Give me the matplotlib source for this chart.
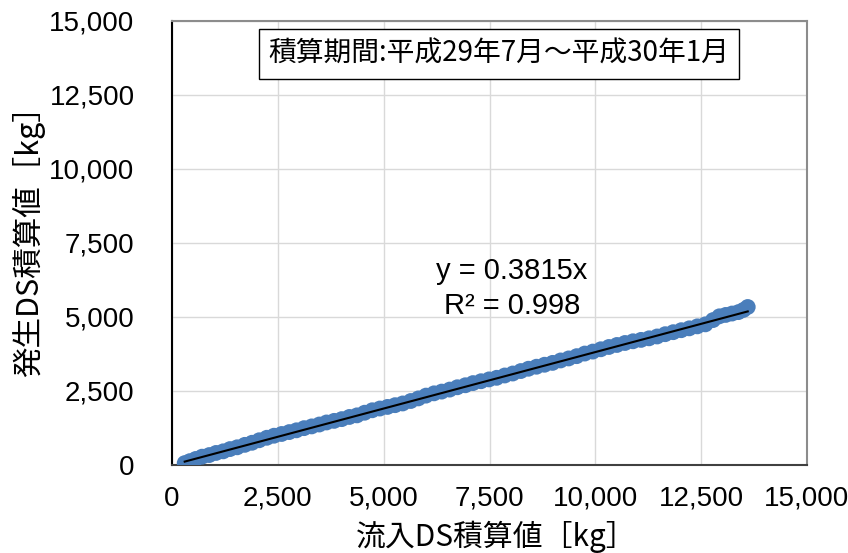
import matplotlib
matplotlib.use("Agg")
import matplotlib.pyplot as plt
import numpy as np
from matplotlib.ticker import FuncFormatter, MultipleLocator

plt.rcParams["font.family"] = ["Liberation Sans", "Noto Sans CJK JP"]

# cumulative DS inflow [kg] vs cumulative DS generated [kg]
inflow_kg = [
    300, 420, 560, 710, 880, 1040, 1210, 1370, 1540, 1720, 1890, 2060, 2240,
    2410, 2590, 2770, 2940, 3120, 3300, 3480, 3650, 3830, 4010, 4190, 4370,
    4550, 4730, 4910, 5090, 5270, 5450, 5640, 5820, 6000, 6190, 6370, 6560,
    6740, 6930, 7110, 7300, 7490, 7670, 7860, 8050, 8240, 8420, 8610, 8800,
    8990, 9180, 9370, 9560, 9750, 9940, 10130, 10320, 10510, 10700, 10890,
    11080, 11270, 11460, 11650, 11840, 12030, 12220, 12410, 12600, 12780,
    12930, 13080, 13230, 13380, 13500, 13600,
]
generated_kg = [
    64, 130, 204, 281, 336, 407, 462, 538, 598, 681, 751, 836, 920,
    989, 1048, 1112, 1172, 1245, 1304, 1368, 1437, 1491, 1550, 1623, 1677,
    1766, 1849, 1908, 1962, 2021, 2079, 2162, 2250, 2344, 2421, 2480, 2548,
    2626, 2694, 2767, 2830, 2892, 2946, 3024, 3091, 3174, 3252, 3320, 3387,
    3450, 3532, 3600, 3677, 3765, 3832, 3910, 3987, 4055, 4122, 4180,
    4227, 4280, 4342, 4419, 4487, 4554, 4617, 4684, 4752, 4896,
    5023, 5070, 5117, 5165, 5240, 5338,
]
slope = 0.3815
r2 = 0.998
period_label = "積算期間:平成29年7月～平成30年1月"
x_label = "流入DS積算値［kg］"
y_label = "発生DS積算値［kg］"

jp = ["Noto Sans CJK JP", "Liberation Sans"]

fig = plt.figure(figsize=(8.48, 5.53), dpi=100)
ax = fig.add_axes([172 / 848, 1 - 465 / 553, 635 / 848, 444 / 553])

ax.scatter(inflow_kg, generated_kg, s=130, color="#4A7EBB", edgecolors="none", zorder=3)

fit_x = np.array([min(inflow_kg), max(inflow_kg)])
ax.plot(fit_x, slope * fit_x, color="black", lw=1.5, zorder=4)

ax.set_xlim(0, 15000)
ax.set_ylim(0, 15000)
ax.xaxis.set_major_locator(MultipleLocator(2500))
ax.yaxis.set_major_locator(MultipleLocator(2500))
fmt = FuncFormatter(lambda v, p: f"{int(v):,}")
ax.xaxis.set_major_formatter(fmt)
ax.yaxis.set_major_formatter(fmt)
ax.tick_params(axis="both", length=0, labelsize=20)
ax.tick_params(axis="y", pad=27)
ax.tick_params(axis="x", pad=15)

ax.grid(True, color="#D9D9D9", lw=1)
ax.set_axisbelow(True)
ax.spines["left"].set_color("black")
ax.spines["bottom"].set_color("#404040")
ax.spines["top"].set_color("#8C8C8C")
ax.spines["right"].set_color("#8C8C8C")
for sp in ax.spines.values():
    sp.set_linewidth(1.5)

ax.set_xlabel(x_label, family=jp, fontsize=21.5)
ax.set_ylabel(y_label, family=jp, fontsize=22)
ax.xaxis.set_label_coords(0.51, -0.125)
ax.yaxis.set_label_coords(-0.2, 0.52)

ax.text(0.515, 0.926, period_label, transform=ax.transAxes, family=jp,
        fontsize=20, ha="center", va="center",
        bbox=dict(boxstyle="square,pad=0.35", fc="white", ec="black", lw=1))

ax.text(0.535, 0.437, f"y = {slope}x", transform=ax.transAxes,
        fontsize=21, ha="center", va="center")
ax.text(0.535, 0.357, f"R² = {r2}", transform=ax.transAxes,
        fontsize=21, ha="center", va="center")

fig.savefig("out.png", dpi=100)
